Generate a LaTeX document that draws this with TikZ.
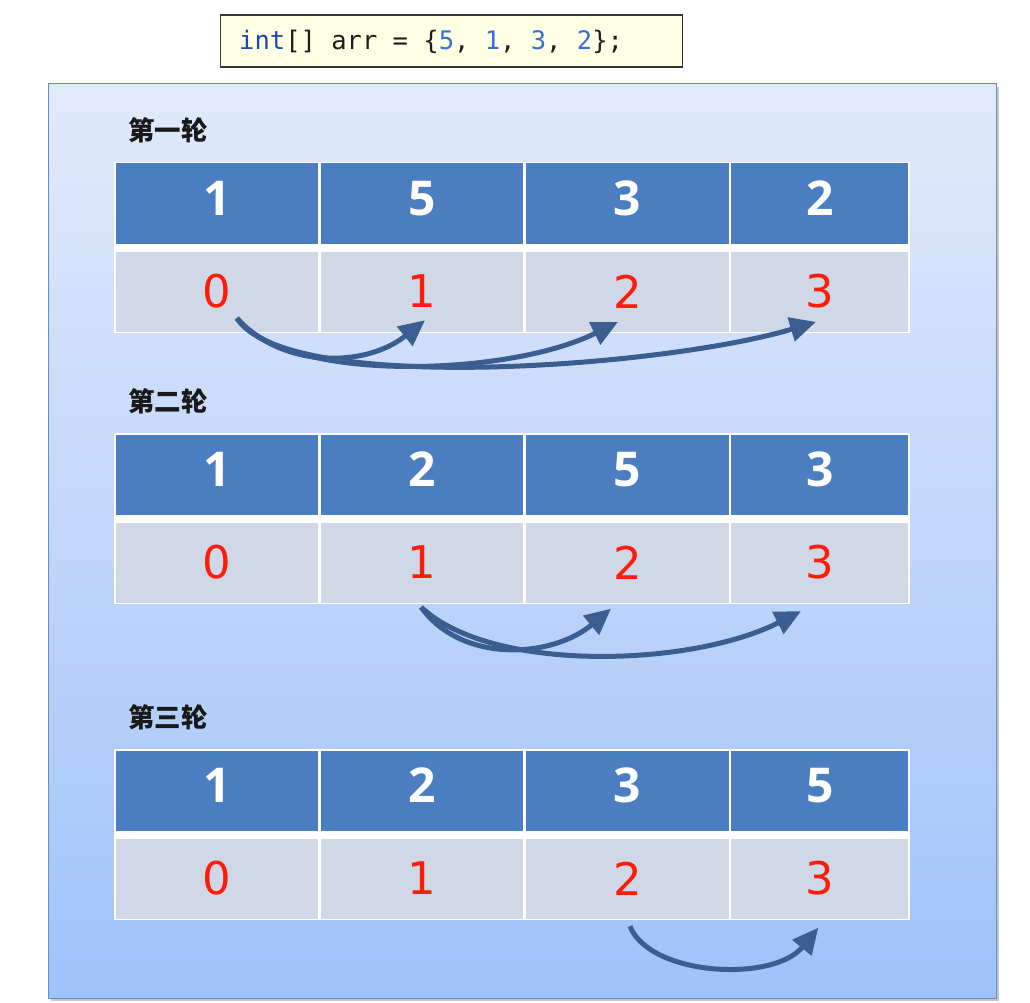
\documentclass[tikz,border=0pt]{standalone}
\usepackage{fontspec}
\usetikzlibrary{arrows.meta}
\newfontfamily\cjkfont{Noto Sans CJK SC}
\newfontfamily\codefont{DejaVu Sans Mono}
\newfontfamily\numfont{Open Sans}
\newfontfamily\idxfont{DejaVu Sans}
\definecolor{panelTop}{RGB}{225,234,251}
\definecolor{panelBot}{RGB}{160,194,250}
\definecolor{panelEdge}{RGB}{100,140,200}
\definecolor{headBlue}{RGB}{75,126,192}
\definecolor{idxFill}{RGB}{208,216,232}
\definecolor{idxRed}{RGB}{252,28,8}
\definecolor{arrowBlue}{RGB}{58,94,143}
\definecolor{codeFill}{RGB}{255,255,230}
\definecolor{codeKw}{RGB}{30,72,170}
\definecolor{codeNum}{RGB}{58,110,210}
\definecolor{codeTxt}{RGB}{30,30,30}
\begin{document}
\begin{tikzpicture}[x=1pt,y=-1pt,
  panel/.style={shade, top color=panelTop, bottom color=panelBot, draw=panelEdge, line width=1pt, minimum width=948pt, minimum height=914pt, inner sep=0pt},
  codebox/.style={draw=codeTxt!90, fill=codeFill, line width=1.2pt, minimum width=462pt, minimum height=52pt, inner sep=0pt},
  roundlabel/.style={anchor=west, inner sep=0pt, font=\cjkfont\bfseries\fontsize{26.5}{30}\selectfont, text=black!90},
  headcell/.style={fill=headBlue, inner sep=0pt, minimum height=80pt, text=white, text depth=10pt, font=\numfont\bfseries\fontsize{48}{50}\selectfont},
  idxcell/.style={fill=idxFill, inner sep=0pt, minimum height=80pt, text=idxRed, font=\idxfont\fontsize{45}{50}\selectfont},
  swaparrow/.style={draw=arrowBlue, line width=5pt, -{Triangle[length=26pt,width=24pt]}},
]
\useasboundingbox (0,0) rectangle (1030,1003);
\fill[white] (0,0) rectangle (1030,1003);

% panel with shadow
\fill[black!22] (51,87) rectangle (999,1001);
\node[panel] (panel) at (522,541) {};

% code line
\node[codebox] (code) at (451.3,41) {};
\node[anchor=base west, inner sep=0pt, font=\codefont\fontsize{25.5}{30}\selectfont, text=codeTxt] (codetext) at (239,50)
  {{\color{codeKw}int}[] arr = \{{\color{codeNum}5}, {\color{codeNum}1}, {\color{codeNum}3}, {\color{codeNum}2}\};};

% tables
\foreach \t/\top/\lab/\a/\b/\c/\d in {1/162/第一轮/1/5/3/2, 2/433/第二轮/1/2/5/3, 3/749/第三轮/1/2/3/5} {
  \node[roundlabel] (lab\t) at (128,{\top-31.5}) {\lab};
  \fill[white] (114,\top) rectangle (909.8,{\top+171});
  \node[headcell, minimum width=202.8pt] (h\t0) at (216.9,{\top+41.5}) {\a};
  \node[headcell, minimum width=202.3pt] (h\t1) at (422.15,{\top+41.5}) {\b};
  \node[headcell, minimum width=202.7pt] (h\t2) at (627.35,{\top+41.5}) {\c};
  \node[headcell, minimum width=177pt]   (h\t3) at (819.8,{\top+41.5}) {\d};
  \node[idxcell, minimum width=202.8pt] (i\t0) at (216.9,{\top+129.5}) {0};
  \node[idxcell, minimum width=202.3pt] (i\t1) at (422.15,{\top+129.5}) {1};
  \node[idxcell, minimum width=202.7pt] (i\t2) at (627.35,{\top+129.5}) {2};
  \node[idxcell, minimum width=177pt]   (i\t3) at (819.8,{\top+129.5}) {3};
}

% round 1 arrows
\draw[swaparrow] ([xshift=20pt,yshift=13.5pt]i10.south) .. controls +(45,50) and +(-60,48) .. ([xshift=2.85pt,yshift=11.5pt]i11.south);
\draw[swaparrow] ([xshift=20pt,yshift=13.5pt]i10.south) .. controls +(50,65) and +(-110,55) .. ([xshift=-9.35pt,yshift=9.8pt]i12.south);
\draw[swaparrow] ([xshift=20pt,yshift=13.5pt]i10.south) .. controls +(50,78) and +(-150,45) .. ([xshift=-3.8pt,yshift=9.8pt]i13.south);

% round 2 arrows
\draw[swaparrow] ([xshift=-1pt,yshift=-4.5pt]i21.south) .. controls +(40,56) and +(-60,50) .. ([xshift=-16.35pt,yshift=-6pt]i22.south);
\draw[swaparrow] ([xshift=-1pt,yshift=-4.5pt]i21.south) .. controls +(70,66) and +(-110,56) .. ([xshift=-18.8pt,yshift=-8.5pt]i23.south);

% round 3 arrow
\draw[swaparrow] ([xshift=2.6pt,yshift=-7.5pt]i32.south) .. controls +(20,50) and +(-45,55) .. ([xshift=-1.5pt,yshift=-9pt]i33.south);
\end{tikzpicture}
\end{document}
